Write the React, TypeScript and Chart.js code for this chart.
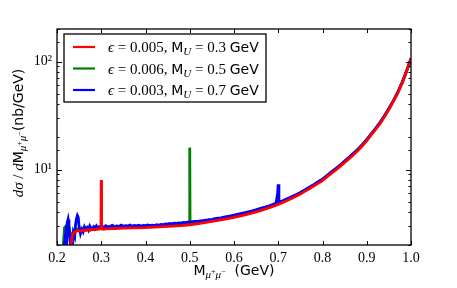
import React, { useEffect, useRef } from 'react';
import { Chart, registerables } from 'chart.js';

Chart.register(...registerables);

// ---------- data ----------
const redX = [0.226, 0.23, 0.233, 0.236, 0.24, 0.245, 0.25, 0.255, 0.26, 0.265, 0.27, 0.275, 0.28, 0.285, 0.29, 0.295, 0.2993, 0.3, 0.3007, 0.305, 0.31, 0.32, 0.33, 0.34, 0.35, 0.37, 0.4, 0.43, 0.45, 0.48, 0.5, 0.52, 0.54, 0.56, 0.58, 0.6, 0.62, 0.64, 0.66, 0.68, 0.7, 0.71, 0.72, 0.73, 0.74, 0.75, 0.76, 0.77, 0.78, 0.79, 0.8, 0.81, 0.82, 0.83, 0.84, 0.85, 0.86, 0.87, 0.88, 0.89, 0.9, 0.91, 0.92, 0.93, 0.94, 0.95, 0.96, 0.97, 0.98, 0.99, 1.0];
const redY = [1.6, 1.9, 2.2, 2.5, 2.65, 2.7, 2.72, 2.68, 2.75, 2.72, 2.78, 2.74, 2.8, 2.76, 2.8, 2.8, 2.82, 8.0, 2.84, 2.8, 2.82, 2.83, 2.84, 2.85, 2.86, 2.88, 2.9, 2.94, 2.97, 3.02, 3.08, 3.16, 3.25, 3.36, 3.47, 3.6, 3.76, 3.95, 4.17, 4.43, 4.75, 4.96, 5.17, 5.4, 5.65, 5.92, 6.27, 6.63, 7.03, 7.45, 7.9, 8.55, 9.2, 9.9, 10.7, 11.6, 12.6, 13.7, 15.0, 16.6, 18.5, 20.9, 23.5, 26.5, 30.8, 36, 42.5, 51, 63, 81, 106];

const greenX = [0.211, 0.214, 0.217, 0.219, 0.221, 0.224, 0.228, 0.232, 0.236, 0.24, 0.25, 0.26, 0.28, 0.3, 0.35, 0.4, 0.45, 0.495, 0.4993, 0.5, 0.5007, 0.505, 0.55, 0.6, 0.65, 0.7, 0.75, 0.8, 0.85, 0.88, 0.9, 0.92, 0.94, 0.95, 0.96, 0.97, 0.98, 0.99, 1.0];
const greenY = [1.7, 1.9, 2.9, 2.95, 2.2, 2.6, 2.8, 2.3, 2.6, 2.8, 2.8, 2.85, 2.86, 2.9, 2.92, 2.96, 3.03, 3.14, 3.15, 16, 3.17, 3.17, 3.35, 3.66, 4.2, 4.84, 6.02, 8.05, 11.8, 15.3, 18.8, 23.9, 31.3, 36.6, 43.2, 51.8, 64, 82, 106.5];

const blueX = [0.213, 0.216, 0.219, 0.2215, 0.223, 0.225, 0.227, 0.229, 0.231, 0.233, 0.235, 0.237, 0.24, 0.242, 0.244, 0.246, 0.248, 0.25, 0.253, 0.256, 0.259, 0.262, 0.265, 0.268, 0.271, 0.274, 0.277, 0.28, 0.283, 0.286, 0.289, 0.292, 0.295, 0.298, 0.302, 0.306, 0.31, 0.315, 0.32, 0.325, 0.33, 0.335, 0.34, 0.345, 0.35, 0.355, 0.36, 0.365, 0.37, 0.375, 0.38, 0.385, 0.39, 0.395, 0.4, 0.405, 0.41, 0.415, 0.42, 0.425, 0.43, 0.435, 0.44, 0.445, 0.45, 0.455, 0.46, 0.465, 0.47, 0.475, 0.48, 0.485, 0.49, 0.495, 0.5, 0.51, 0.52, 0.53, 0.54, 0.55, 0.56, 0.57, 0.58, 0.59, 0.6, 0.61, 0.62, 0.63, 0.64, 0.65, 0.66, 0.67, 0.68, 0.69, 0.695, 0.6985, 0.7, 0.7015, 0.705, 0.71, 0.72, 0.73, 0.74, 0.75, 0.76, 0.77, 0.78, 0.79, 0.8, 0.81, 0.82, 0.83, 0.84, 0.85, 0.86, 0.87, 0.88, 0.89, 0.9, 0.91, 0.92, 0.93, 0.94, 0.95, 0.96, 0.97, 0.98, 0.99, 1.0];
const blueY = [1.8, 1.9, 2.4, 1.9, 3.2, 3.45, 3.0, 2.3, 1.9, 1.7, 1.9, 2.6, 2.4, 3.1, 3.5, 3.75, 3.6, 2.9, 2.55, 2.8, 2.65, 2.95, 2.8, 2.9, 2.75, 3.0, 2.85, 2.8, 2.95, 2.88, 3.0, 2.85, 2.95, 2.9, 2.98, 2.9, 3.02, 2.94, 2.98, 3.04, 2.95, 3.0, 2.97, 3.05, 2.98, 3.02, 3.0, 3.06, 2.99, 3.03, 3.01, 3.05, 3.0, 3.04, 3.02, 3.06, 3.03, 3.05, 3.02, 3.08, 3.05, 3.1, 3.08, 3.13, 3.12, 3.16, 3.14, 3.18, 3.17, 3.2, 3.19, 3.23, 3.22, 3.25, 3.26, 3.3, 3.33, 3.37, 3.41, 3.46, 3.52, 3.57, 3.64, 3.7, 3.78, 3.86, 3.94, 4.03, 4.13, 4.24, 4.36, 4.48, 4.62, 4.78, 4.88, 6.0, 7.3, 5.1, 5.05, 5.13, 5.35, 5.6, 5.85, 6.12, 6.47, 6.85, 7.25, 7.7, 8.15, 8.8, 9.5, 10.2, 11.0, 11.95, 12.95, 14.1, 15.4, 17.0, 18.95, 21.4, 24.0, 27.1, 31.4, 36.7, 43.2, 51.8, 63.8, 81.8, 106.5];

const epsilons = ['0.005', '0.006', '0.003'];
const masses = ['0.3', '0.5', '0.7'];
const colors = ['#ff0000', '#008000', '#0000ff'];
const drawOrder = [0, 2, 1]; // red on top, blue middle, green beneath
const xTickValues = [0.2, 0.3, 0.4, 0.5, 0.6, 0.7, 0.8, 0.9, 1.0];
const yMajorLabels: Record<number, string> = { 10: '10¹', 100: '10²' };

const SANS = '"DejaVu Sans", sans-serif';
const SERIF = '"Liberation Serif", "DejaVu Serif", serif';

type Run = { t: string; f: string; dy?: number };

function runsWidth(ctx: CanvasRenderingContext2D, runs: Run[]) {
  let w = 0;
  for (const r of runs) {
    ctx.font = r.f;
    w += ctx.measureText(r.t).width;
  }
  return w;
}
function drawRuns(ctx: CanvasRenderingContext2D, runs: Run[], x: number, y: number) {
  let cx = x;
  for (const r of runs) {
    ctx.font = r.f;
    ctx.fillText(r.t, cx, y + (r.dy || 0));
    cx += ctx.measureText(r.t).width;
  }
}

const subMuPM = (): Run[] => [
  { t: 'μ', f: `italic 11px ${SERIF}`, dy: 3 },
  { t: '+', f: `8px ${SERIF}`, dy: -1 },
  { t: 'μ', f: `italic 11px ${SERIF}`, dy: 3 },
  { t: '−', f: `8px ${SERIF}`, dy: -1 },
];

const decorPlugin = {
  id: 'decor',
  afterDraw(chart: any) {
    const ctx: CanvasRenderingContext2D = chart.ctx;
    const { left, right, top, bottom } = chart.chartArea;
    const xs = chart.scales.x;
    const ys = chart.scales.y;
    ctx.save();
    ctx.strokeStyle = '#000';
    ctx.fillStyle = '#000';
    ctx.lineWidth = 1;
    // ticks (inward, both sides)
    ctx.beginPath();
    for (const v of xTickValues) {
      const px = Math.round(xs.getPixelForValue(v)) + 0.5;
      ctx.moveTo(px, bottom);
      ctx.lineTo(px, bottom - 4);
      ctx.moveTo(px, top);
      ctx.lineTo(px, top + 4);
    }
    for (const t of ys.ticks) {
      const v = t.value;
      const lg = Math.log10(v);
      const major = Math.abs(lg - Math.round(lg)) < 1e-9;
      const len = major ? 5 : 2.5;
      const py = Math.round(ys.getPixelForValue(v)) + 0.5;
      ctx.moveTo(left, py);
      ctx.lineTo(left + len, py);
      ctx.moveTo(right, py);
      ctx.lineTo(right - len, py);
    }
    ctx.stroke();
    // frame
    ctx.lineWidth = 1.3;
    ctx.strokeRect(left, top, right - left, bottom - top);

    // legend
    const lx = 64, ly = 34, lw = 202, lh = 68;
    ctx.fillStyle = '#fff';
    ctx.fillRect(lx, ly, lw, lh);
    ctx.lineWidth = 1.3;
    ctx.strokeStyle = '#000';
    ctx.strokeRect(lx, ly, lw, lh);
    ctx.textBaseline = 'alphabetic';
    ctx.textAlign = 'left';
    chart.data.datasets.forEach((ds: any, i: number) => {
      const cy = 47 + i * 21.5;
      ctx.strokeStyle = ds.borderColor;
      ctx.lineWidth = 2.2;
      ctx.beginPath();
      ctx.moveTo(73, cy);
      ctx.lineTo(95, cy);
      ctx.stroke();
      ctx.fillStyle = '#000';
      const runs: Run[] = [
        { t: 'ϵ', f: `italic 15px ${SERIF}` },
        { t: ` = ${epsilons[i]}, `, f: `15px ${SERIF}` },
        { t: 'M', f: `14px ${SANS}` },
        { t: 'U', f: `italic 11px ${SERIF}`, dy: 3 },
        { t: ` = ${masses[i]} `, f: `15px ${SERIF}` },
        { t: 'GeV', f: `14px ${SANS}` },
      ];
      drawRuns(ctx, runs, 108, cy + 5);
    });

    // x title
    ctx.fillStyle = '#000';
    const xRuns: Run[] = [
      { t: 'M', f: `14px ${SANS}` },
      ...subMuPM(),
      { t: '  (GeV)', f: `14px ${SANS}` },
    ];
    const xw = runsWidth(ctx, xRuns);
    drawRuns(ctx, xRuns, (left + right) / 2 - xw / 2, 275);

    // y title
    const yRuns: Run[] = [
      { t: 'dσ', f: `italic 15px ${SERIF}` },
      { t: ' / ', f: `15px ${SERIF}` },
      { t: 'd', f: `italic 15px ${SERIF}` },
      { t: 'M', f: `14px ${SANS}` },
      ...subMuPM(),
      { t: '(nb/GeV)', f: `14px ${SANS}` },
    ];
    const yw = runsWidth(ctx, yRuns);
    ctx.translate(23, (top + bottom) / 2 - 4);
    ctx.rotate(-Math.PI / 2);
    drawRuns(ctx, yRuns, -yw / 2, 0);
    ctx.restore();
  },
};

export default function App() {
  const ref = useRef<HTMLCanvasElement | null>(null);
  useEffect(() => {
    if (!ref.current) return;
    const mk = (xa: number[], ya: number[]) =>
      xa.slice(0, Math.min(xa.length, ya.length)).map((x, i) => ({ x, y: ya[i] }));
    const series = [mk(redX, redY), mk(greenX, greenY), mk(blueX, blueY)];
    const chart = new Chart(ref.current, {
      type: 'line',
      data: {
        datasets: series.map((d, i) => ({
          label: `ϵ = ${epsilons[i]}, MU = ${masses[i]} GeV`,
          data: d,
          borderColor: colors[i],
          backgroundColor: colors[i],
          borderWidth: 2.8,
          pointRadius: 0,
          tension: 0,
          fill: false,
          order: drawOrder[i],
        })),
      },
      options: {
        animation: false,
        responsive: false,
        layout: { padding: { top: 29, right: 46, left: 0, bottom: 0 } },
        plugins: { legend: { display: false }, tooltip: { enabled: false } },
        scales: {
          x: {
            type: 'linear',
            min: 0.2,
            max: 1.0,
            grid: { display: false, drawTicks: false },
            border: { display: false },
            ticks: {
              stepSize: 0.1,
              autoSkip: false,
              maxRotation: 0,
              color: '#000',
              padding: 5,
              font: { family: SERIF, size: 14 },
              callback: (v: any) => Number(v).toFixed(1),
            },
            afterFit: (s: any) => {
              s.height = 43;
            },
          },
          y: {
            type: 'logarithmic',
            min: 2,
            max: 200,
            grid: { display: false, drawTicks: false },
            border: { display: false },
            ticks: {
              autoSkip: false,
              color: '#000',
              padding: 5,
              font: { family: SERIF, size: 14 },
              callback: (v: any) => {
                const n = Number(v);
                for (const k of Object.keys(yMajorLabels)) {
                  if (Math.abs(n - Number(k)) < 1e-6) return yMajorLabels[Number(k)];
                }
                return '';
              },
            },
            afterFit: (s: any) => {
              s.width = 57;
            },
          },
        },
      } as any,
      plugins: [decorPlugin],
    });
    return () => chart.destroy();
  }, []);
  return (
    <div style={{ position: 'absolute', left: 0, top: 0, width: 457, height: 288, background: '#fff' }}>
      <canvas ref={ref} width={457} height={288} style={{ width: 457, height: 288 }} />
    </div>
  );
}
